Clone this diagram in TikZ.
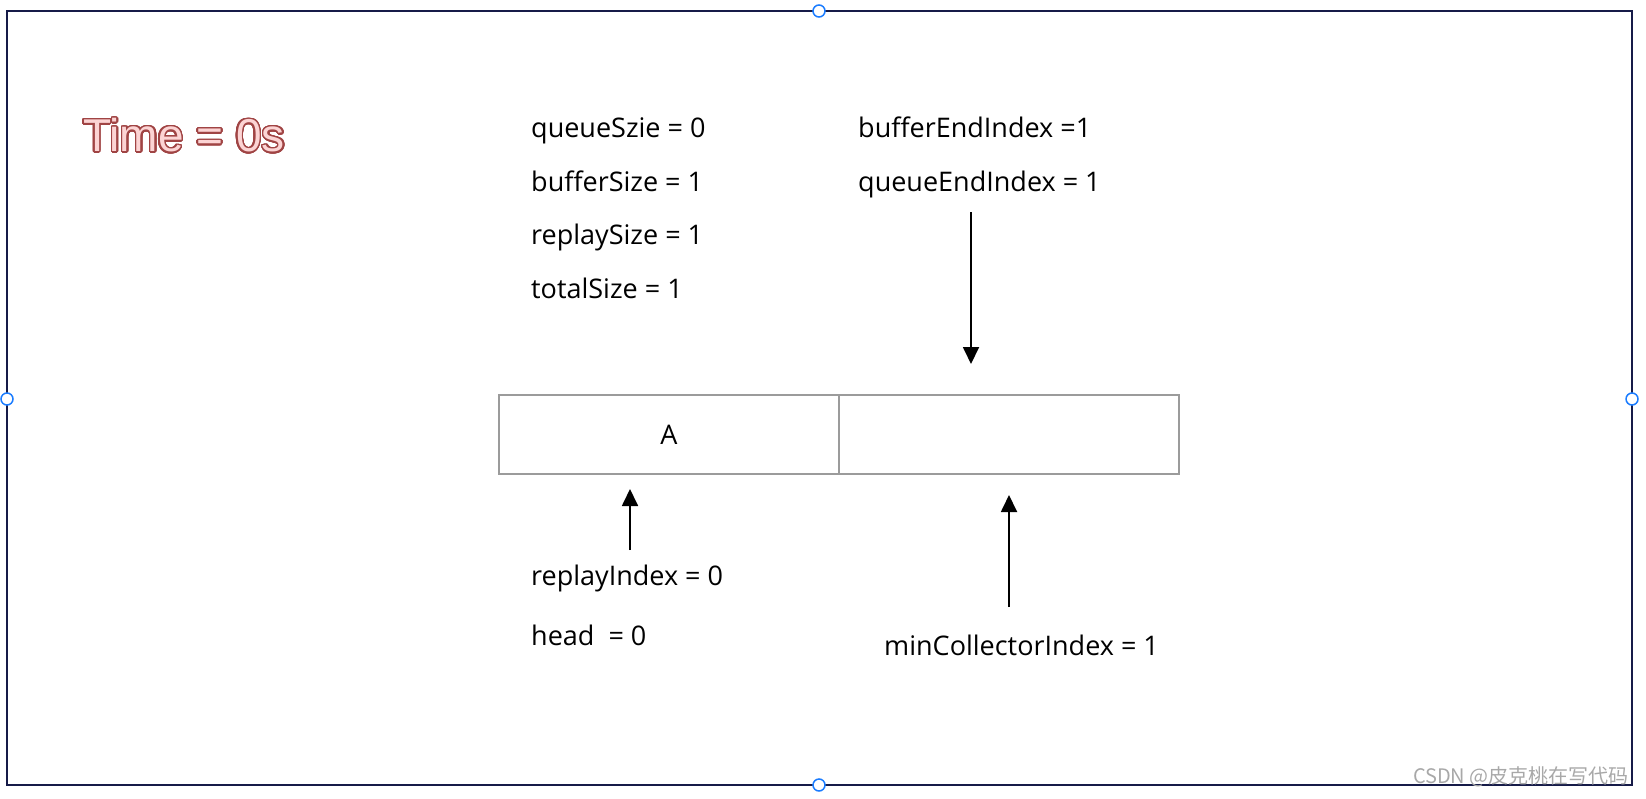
\documentclass[tikz,border=0pt]{standalone}
\usepackage{fontspec}
\setmainfont{Open Sans}
\newfontfamily\cjk{Noto Sans CJK SC}
\newfontfamily\titlefont{Liberation Sans}
\usepackage[copies]{contour}
\usetikzlibrary{arrows.meta}
\definecolor{framenavy}{HTML}{161B48}
\definecolor{handleblue}{HTML}{1A7CFF}
\definecolor{cellgray}{HTML}{9B9B9B}
\definecolor{titlered}{HTML}{A04444}
\definecolor{titlepink}{HTML}{FCD4D4}
\definecolor{markgray}{HTML}{A8A8A8}
\contourlength{1.6pt}

\begin{document}
\begin{tikzpicture}[x=1pt,y=-1pt,
		lbl/.style={anchor=base west,inner sep=0pt,font=\fontsize{27}{31}\selectfont},
		cell/.style={draw=cellgray,line width=1.4pt,minimum width=340pt,minimum height=79pt,inner sep=0pt,font=\fontsize{27}{31}\selectfont},
		ptr/.style={-{Triangle[width=16pt,length=17pt]},line width=1.8pt},
		handle/.style={circle,draw=handleblue,fill=white,line width=1.5pt,minimum size=12pt,inner sep=0pt}]
		\useasboundingbox (0,0) rectangle (1646,798);
		\draw[framenavy, line width=2pt] (7,11) rectangle (1632,785);
		\node[handle] (hTop) at (819,11) {};
		\node[handle] (hLeft) at (7,399) {};
		\node[handle] (hRight) at (1632,399) {};
		\node[handle] (hBottom) at (819,785) {};

		\node (title) at (184,136) {\titlefont\fontsize{46}{50}\selectfont\contour[32]{titlered}{\textcolor{titlepink}{Time = 0s}}};

		\node[lbl] (qSize) at (531,137) {queueSzie = 0};
		\node[lbl] (bSize) at (531,191) {bufferSize = 1};
		\node[lbl] (rSize) at (531,244) {replaySize = 1};
		\node[lbl] (tSize) at (531,298) {totalSize = 1};
		\node[lbl] (bEnd) at (858,137) {bufferEndIndex =1};
		\node[lbl] (qEnd) at (858,191) {queueEndIndex = 1};

		\node[cell] (cellA) at (669,434.5) {A};
		\node[cell] (cellB) at (1009,434.5) {};

		\node[lbl] (rIdx) at (531,585) {replayIndex = 0};
		\node[lbl] (head) at (531,645) {head\ \ = 0};
		\node[lbl] (minIdx) at (884,655) {minCollectorIndex = 1};

		\coordinate (qEndTail) at (971,212);
		\coordinate (qEndTip) at (971,364);
		\coordinate (rIdxTail) at (630,550);
		\coordinate (rIdxTip) at (630,489);
		\coordinate (minTail) at (1009,607);
		\coordinate (minTip) at (1009,495);
		\draw[ptr] (qEndTail) -- (qEndTip);
		\draw[ptr] (rIdxTail) -- (rIdxTip);
		\draw[ptr] (minTail) -- (minTip);

		\node[anchor=base east,inner sep=0pt,text=markgray,font=\cjk\fontsize{20}{24}\selectfont] (mark) at (1629,783) {CSDN @皮克桃在写代码};
\end{tikzpicture}
\end{document}
